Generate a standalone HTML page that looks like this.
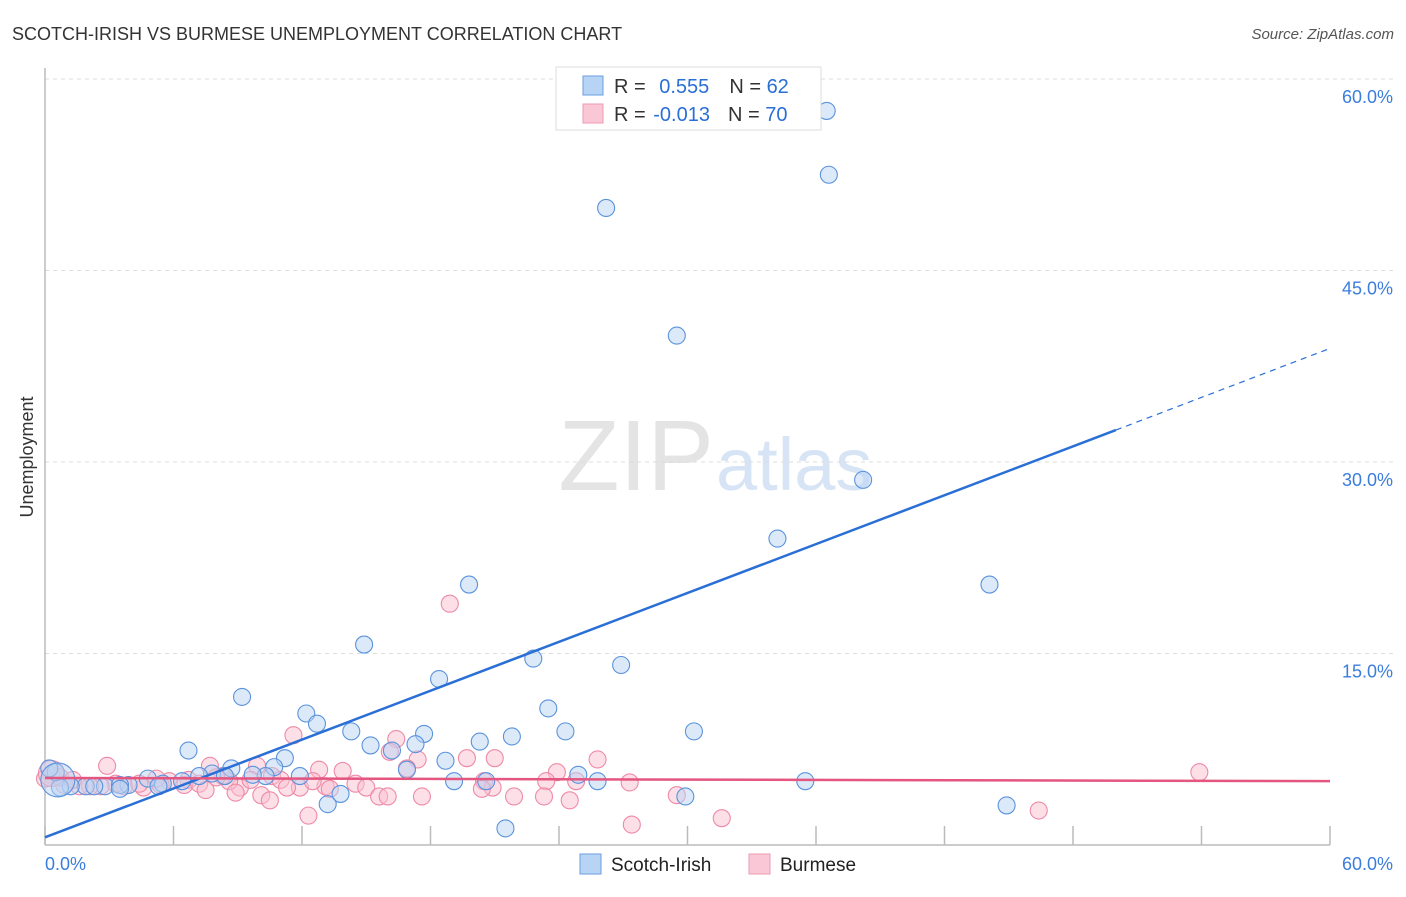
<!DOCTYPE html>
<html><head><meta charset="utf-8"><style>
body{margin:0;background:#fff;font-family:"Liberation Sans",sans-serif}
svg text{font-family:"Liberation Sans",sans-serif}
</style></head><body>
<svg width="1406" height="892" viewBox="0 0 1406 892" xmlns="http://www.w3.org/2000/svg">
<text x="12" y="40" font-size="18" fill="#333">SCOTCH-IRISH VS BURMESE UNEMPLOYMENT CORRELATION CHART</text>
<text x="1394" y="39" font-size="15" fill="#555" font-style="italic" text-anchor="end">Source: ZipAtlas.com</text>
<text x="714" y="490" font-size="100" fill="#e4e4e4" text-anchor="end" font-family="Liberation Serif">ZIP</text>
<text x="716" y="490" font-size="74" fill="#d6e4f5">atlas</text>
<g id="grid"></g>
<g id="axes"></g>
<g id="pts"></g>
<g id="trend"></g>
<text transform="translate(33,457) rotate(-90)" font-size="18" fill="#333" text-anchor="middle">Unemployment</text>
<g>
<rect x="556" y="67" width="265" height="63" fill="#fff" stroke="#ddd"/>
<rect x="583" y="76" width="20" height="19" fill="#b8d4f4" stroke="#6a9ee0"/>
<rect x="583" y="104" width="20" height="19" fill="#f9c7d5" stroke="#ee9ab2"/>
<text x="614" y="93" font-size="20" fill="#333">R = <tspan fill="#2a6fd6" dx="8">0.555</tspan><tspan dx="20" fill="#333">N = </tspan><tspan fill="#2a6fd6">62</tspan></text>
<text x="614" y="121" font-size="20" fill="#333">R = <tspan fill="#2a6fd6" dx="2">-0.013</tspan><tspan dx="18" fill="#333">N = </tspan><tspan fill="#2a6fd6">70</tspan></text>
</g>
<g>
<rect x="580" y="854" width="21" height="20" fill="#b8d4f4" stroke="#6a9ee0"/>
<text x="611" y="871" font-size="19" fill="#222">Scotch-Irish</text>
<rect x="749" y="854" width="21" height="20" fill="#f9c7d5" stroke="#ee9ab2"/>
<text x="780" y="871" font-size="19" fill="#222">Burmese</text>
</g>
</svg>
<script>
const xTicks=[0,6,12,18,24,30,36,42,48,54,60];
const yTicks=[15,30,45,60];
const yTickLabels=["15.0%","30.0%","45.0%","60.0%"];
const xEndLabels=["0.0%","60.0%"];
const blueX=[36.5,36.6,26.2,29.5,38.2,34.2,44.1,19.8,14.9,22.8,26.9,9.2,18.4,12.2,12.7,23.5,6.7,14.3,17.7,24.3,30.3,21.8,20.3,15.2,16.2,17.3,18.7,11.2,10.7,8.7,16.9,24.9,19.1,20.6,25.8,35.5,11.9,10.3,9.7,7.8,7.2,4.8,6.4,5.5,3.9,2.8,1.9,1.2,0.7,0.5,0.2,13.2,29.9,44.9,21.5,13.8,8.4,3.5,2.3,5.3,3.5,0.6];
const blueY=[57.5,52.5,49.9,39.9,28.6,24.0,20.4,20.4,15.7,14.6,14.1,11.6,13.0,10.3,9.5,10.7,7.4,8.9,8.7,8.9,8.9,8.5,8.1,7.8,7.4,7.9,6.6,6.8,6.1,6.0,5.9,5.5,5.0,5.0,5.0,5.0,5.4,5.4,5.5,5.6,5.4,5.2,5.0,4.8,4.7,4.6,4.6,4.6,4.5,5.7,6.0,3.2,3.8,3.1,1.3,4.0,5.4,4.7,4.6,4.6,4.4,5.1];
const pinkX=[18.9,11.6,16.4,17.4,16.9,19.7,21.0,25.8,9.9,7.7,2.9,12.8,13.9,16.1,23.9,23.4,20.5,27.3,24.8,20.9,11.9,10.6,9.1,8.6,8.3,6.7,5.8,5.4,4.6,3.7,3.3,2.6,2.1,1.6,0.9,0.7,0.3,0.0,6.5,7.2,9.6,11.0,13.1,14.5,15.0,10.1,8.9,11.3,10.5,15.6,16.0,17.6,21.9,23.3,24.5,29.5,20.4,12.3,27.4,31.6,46.4,53.9,12.5,13.3,5.2,7.5,8.0,4.4,1.3,0.3];
const pinkY=[18.9,8.6,8.3,6.7,6.0,6.8,6.8,6.7,6.2,6.2,6.2,5.9,5.8,7.3,5.7,5.0,5.0,4.9,5.0,4.5,4.5,5.4,4.5,5.0,5.4,5.1,5.0,4.7,4.5,4.6,4.8,4.6,4.6,4.6,4.7,5.3,5.5,5.2,4.7,4.8,5.1,5.1,4.6,4.8,4.5,3.9,4.1,4.5,3.5,3.8,3.8,3.8,3.8,3.8,3.5,3.9,4.4,2.3,1.6,2.1,2.7,5.7,5.0,4.4,5.2,4.3,5.3,4.8,5.1,5.6];
const blueTrend=[0.6,32.5];   // y at x=0 and x=50
const blueTrendDashEnd=[60,38.9];
const pinkTrend=[5.25,5.0];   // y at x=0 and x=60
const X0=45,X1=1330,Y0=845,Y1=79;
const sx=v=>X0+v/60*(X1-X0), sy=v=>Y0-v/60*(Y0-Y1);
const NS="http://www.w3.org/2000/svg";
function mk(tag,attrs,parent){const e=document.createElementNS(NS,tag);for(const k in attrs)e.setAttribute(k,attrs[k]);parent.appendChild(e);return e;}
const grid=document.getElementById('grid'),axes=document.getElementById('axes'),pts=document.getElementById('pts'),trend=document.getElementById('trend');
yTicks.forEach((t,i)=>{
 const l=mk('line',{x1:X0,x2:1394,y1:sy(t),y2:sy(t),stroke:'#ddd','stroke-dasharray':'4,4'},grid);
 
 
 const tx=mk('text',{x:1393,y:sy(t)+24,'font-size':18,fill:'#3b7ddd','text-anchor':'end'},axes);
 tx.textContent=yTickLabels[i];
 
 
});
const ya=mk('line',{x1:X0,x2:X0,y1:68,y2:Y0,stroke:'#bbb','stroke-width':1.5},axes);


const xa=mk('line',{x1:X0,x2:X1,y1:Y0,y2:Y0,stroke:'#bbb','stroke-width':1.5},axes);


xTicks.forEach(t=>{
 const l=mk('line',{x1:sx(t),x2:sx(t),y1:826,y2:Y0,stroke:'#bbb','stroke-width':1.5},axes);
 
 
});
const xl0=mk('text',{x:45,y:870,'font-size':18,fill:'#3b7ddd'},axes);xl0.textContent=xEndLabels[0];


const xl1=mk('text',{x:1393,y:870,'font-size':18,fill:'#3b7ddd','text-anchor':'end'},axes);xl1.textContent=xEndLabels[1];


function dots(X,Y,fill,stroke,name){
 X.forEach((x,i)=>{
  const c=mk('circle',{cx:sx(x),cy:sy(Y[i]),r:i===X.length-1?(name==='pink-point'?13:17):8.5,fill:fill,'fill-opacity':0.5,stroke:stroke,'stroke-width':1.1},pts);
  
  
 });
}
dots(pinkX,pinkY,'#f9c0d0','#ee8aa8','pink-point');
dots(blueX,blueY,'#b8d4f4','#5b93dc','blue-point');
const bl=mk('line',{x1:sx(0),y1:sy(blueTrend[0]),x2:sx(50),y2:sy(blueTrend[1]),stroke:'#2a6fd6','stroke-width':2.5},trend);


const bd=mk('line',{x1:sx(50),y1:sy(blueTrend[1]),x2:sx(blueTrendDashEnd[0]),y2:sy(blueTrendDashEnd[1]),stroke:'#2a6fd6','stroke-width':1.2,'stroke-dasharray':'6,5'},trend);


const pl=mk('line',{x1:sx(0),y1:sy(pinkTrend[0]),x2:sx(60),y2:sy(pinkTrend[1]),stroke:'#e4557f','stroke-width':2.5},trend);


</script>
</body></html>
